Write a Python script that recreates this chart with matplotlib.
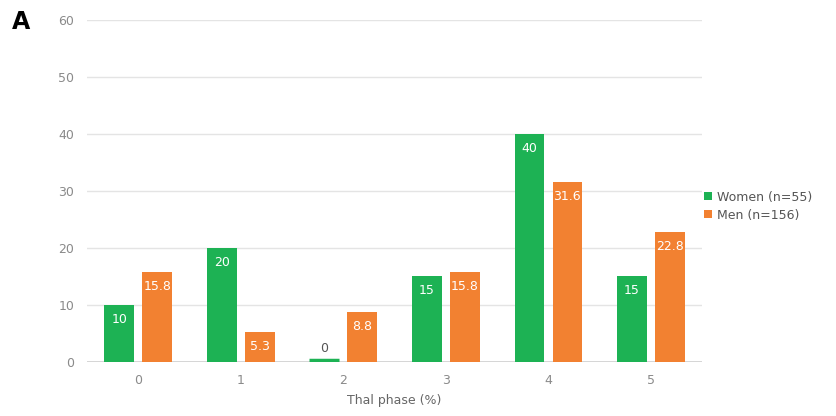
import numpy as np
import matplotlib.pyplot as plt

# Thal phase distribution by sex
phases = ['0', '1', '2', '3', '4', '5']
women = [10, 20, 0, 15, 40, 15]
men = [15.8, 5.3, 8.8, 15.8, 31.6, 22.8]
women_label = 'Women (n=55)'
men_label = 'Men (n=156)'

green = '#1db254'
orange = '#f28131'
grey = '#8a8a8a'

fig = plt.figure(figsize=(8.36, 4.16), dpi=100)
ax = fig.add_axes([0.104, 0.130, 0.736, 0.822])

x = np.arange(len(phases))
w = 0.29
off = 0.185
b1 = ax.bar(x - off, women, w, color=green, label=women_label, zorder=3)
b2 = ax.bar(x + off, men, w, color=orange, label=men_label, zorder=3)

# value labels inside the bar tops, zero gets a thin stub and a dark label above
for bars, vals, col in ((b1, women, green), (b2, men, orange)):
    for rect, v in zip(bars, vals):
        cx = rect.get_x() + rect.get_width() / 2
        if v == 0:
            ax.plot([rect.get_x(), rect.get_x() + rect.get_width()], [0.25, 0.25],
                    color=col, lw=2.5, zorder=3, solid_capstyle='butt')
            ax.text(cx, 1.2, '0', ha='center', va='bottom', fontsize=9,
                    color='#555555', zorder=4)
        else:
            ax.text(cx, v - 1.4, '%g' % v, ha='center', va='top', fontsize=9,
                    color='white', zorder=4)

ax.set_xlim(-0.5, 5.5)
ax.set_ylim(0, 60)
ax.set_yticks(range(0, 61, 10))
ax.set_xticks(x)
ax.set_xticklabels(phases)
ax.yaxis.grid(True, color='#e4e4e4', lw=1, zorder=0)
ax.axhline(0, color='#cfcfcf', lw=1.2, zorder=2)
for s in ax.spines.values():
    s.set_visible(False)
ax.tick_params(axis='both', length=0, labelsize=9, colors=grey)
ax.tick_params(axis='x', pad=9)
ax.tick_params(axis='y', pad=9)
ax.set_xlabel('Thal phase (%)', fontsize=9, color='#666666', labelpad=5)

leg = ax.legend(loc='center left', bbox_to_anchor=(0.995, 0.455), frameon=False,
                fontsize=9, handlelength=0.6, handleheight=0.6, handletextpad=0.4,
                labelspacing=0.4, borderaxespad=0.0)
for t in leg.get_texts():
    t.set_color('#555555')

fig.text(0.014, 0.93, 'A', fontsize=17, fontweight='bold', color='black')

fig.savefig('out.png', dpi=100)
